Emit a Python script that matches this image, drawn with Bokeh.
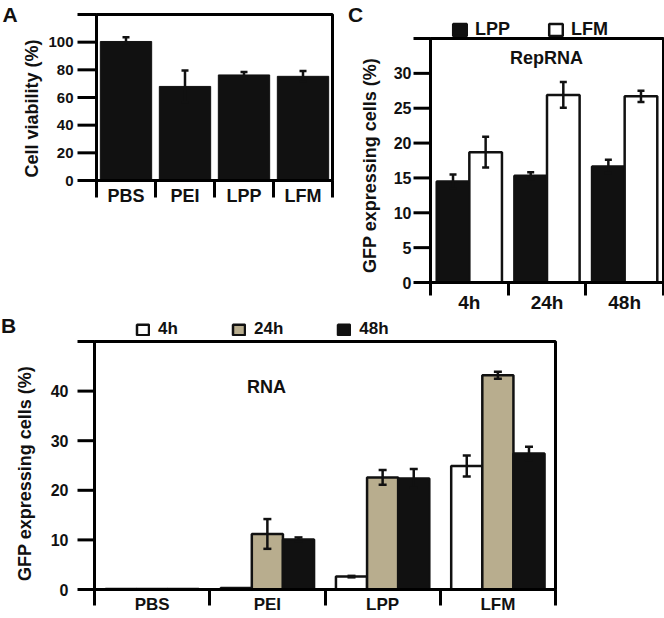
import math
from bokeh.plotting import figure
from bokeh.models import (Range1d, FixedTicker, LinearAxis, Whisker, TeeHead,
                          ColumnDataSource, Legend, LegendItem, Label, BoxAnnotation)
from bokeh.layouts import row, column
from bokeh.embed import file_html
from bokeh.resources import INLINE

FONT = "Liberation Sans"
BLACK = "#111111"
INK = "#000000"
TAN = "#b8ad8e"
WHITE = "#ffffff"

# ---------------- data ----------------
# Panel A: cell viability
a_categories = ["PBS", "PEI", "LPP", "LFM"]
a_viability = [100.5, 68.0, 76.3, 75.3]
a_error = [3.0, 11.5, 2.2, 3.8]
a_yticks = [0, 20, 40, 60, 80, 100, 120]

# Panel B: RNA, GFP expressing cells
b_categories = ["PBS", "PEI", "LPP", "LFM"]
b_series = ["4h", "24h", "48h"]
b_4h = [0.1, 0.3, 2.6, 24.9]
b_24h = [0.1, 11.2, 22.6, 43.2]
b_48h = [0.1, 10.1, 22.4, 27.4]
b_4h_err = [0.0, 0.0, 0.15, 2.1]
b_24h_err = [0.0, 3.0, 1.5, 0.7]
b_48h_err = [0.0, 0.4, 1.9, 1.4]
b_yticks = [0, 10, 20, 30, 40, 50]

# Panel C: RepRNA, GFP expressing cells
c_categories = ["4h", "24h", "48h"]
c_series = ["LPP", "LFM"]
c_lpp = [14.5, 15.3, 16.65]
c_lfm = [18.7, 26.9, 26.7]
c_lpp_err = [1.0, 0.5, 0.95]
c_lfm_err = [2.2, 1.85, 0.8]
c_yticks = [0, 5, 10, 15, 20, 25, 30, 35]


class Panel:
    """Figure whose frame fills the canvas; the plot box sits at a given page position."""

    def __init__(self, fig_box, plot_box, cats, ymax):
        fx, fy, fw, fh = fig_box
        pl, pr, pt, pb = plot_box
        self.fx, self.fy, self.fw, self.fh = fig_box
        self.pl, self.pb = pl, pb
        self.n = len(cats)
        self.ymax = ymax
        self.kx = (pr - pl) / self.n
        self.ky = (pb - pt) / ymax
        self.p = figure(width=fw, height=fh,
                        x_range=Range1d(self.dx(fx), self.dx(fx + fw)),
                        y_range=Range1d(self.dy(fy + fh), self.dy(fy)),
                        output_backend="svg", toolbar_location=None,
                        x_axis_type=None, y_axis_type=None, min_border=0)
        self.p.outline_line_color = None
        self.p.background_fill_color = WHITE
        self.p.border_fill_color = WHITE
        self.cats = cats

    def dx(self, page_x):
        return (page_x - self.pl) / self.kx

    def dy(self, page_y):
        return (self.pb - page_y) / self.ky

    def axes(self, yticks, tick_font, cat_font, ytick_out, ytick_gap, sep_out, cat_standoff):
        p = self.p
        n = self.n
        centers = [i + 0.5 for i in range(n)]
        xaxis = LinearAxis(
            fixed_location=0, bounds=(0, n),
            ticker=FixedTicker(ticks=centers, minor_ticks=list(range(n + 1))),
            major_label_overrides={c: lab for c, lab in zip(centers, self.cats)},
            major_tick_line_color=None, major_tick_out=0, major_tick_in=0,
            minor_tick_out=sep_out, minor_tick_in=0, minor_tick_line_width=3,
            minor_tick_line_color=INK,
            axis_line_width=3, axis_line_color=INK,
            major_label_text_font=FONT, major_label_text_font_style="bold",
            major_label_text_font_size=cat_font, major_label_text_color=BLACK,
            major_label_standoff=cat_standoff)
        p.add_layout(xaxis, "below")
        yaxis = LinearAxis(
            fixed_location=0, bounds=(0, self.ymax),
            ticker=FixedTicker(ticks=yticks),
            major_label_overrides={yticks[-1]: ""},
            major_tick_out=0, major_tick_in=0, major_tick_line_color=None,
            minor_tick_out=0, minor_tick_in=0, minor_tick_line_color=None,
            axis_line_width=3, axis_line_color=INK,
            major_label_text_font=FONT, major_label_text_font_style="bold",
            major_label_text_font_size=tick_font, major_label_text_color=BLACK,
            major_label_standoff=ytick_out + ytick_gap)
        for ax in (xaxis, yaxis):
            if "background_fill_color" in ax.properties():
                ax.background_fill_color = None
        p.add_layout(yaxis, "left")
        # outward tick marks of the value axis, one per tick value
        tick_len = ytick_out / self.kx
        p.segment(x0=[-tick_len] * len(yticks), x1=[0] * len(yticks),
                  y0=yticks, y1=yticks, line_color=INK, line_width=3,
                  level="overlay")
        p.add_layout(BoxAnnotation(left=0, right=n, bottom=0, top=self.ymax,
                                   fill_alpha=0, line_color=INK, line_alpha=1.0,
                                   line_width=3))

    def text(self, page_x, page_y, text, size, angle=0.0, align="center"):
        self.p.add_layout(Label(x=self.dx(page_x), y=self.dy(page_y), text=text,
                                angle=angle, text_align=align, text_baseline="middle",
                                text_font=FONT, text_font_style="bold",
                                text_font_size=size, text_color=BLACK))

    def legend(self, labels, renderers, page_left, page_top, est_h, gw, gh, standoff,
               spacing, size):
        loc = (page_left - self.fx, self.fy + self.fh - page_top - est_h)
        leg = Legend(items=[LegendItem(label=s, renderers=[r]) for s, r in zip(labels, renderers)],
                     orientation="horizontal", location=loc,
                     glyph_width=gw, glyph_height=gh, label_standoff=standoff,
                     spacing=spacing, padding=0, margin=0,
                     border_line_color=None, background_fill_alpha=0,
                     label_text_font=FONT, label_text_font_style="bold",
                     label_text_font_size=size, label_text_color=BLACK)
        self.p.add_layout(leg)


def add_err(p, xs, vals, errs, head):
    keep = [i for i, e in enumerate(errs) if e > 0]
    src = ColumnDataSource(dict(
        x=[xs[i] for i in keep],
        upper=[vals[i] + errs[i] for i in keep],
        lower=[vals[i] - errs[i] for i in keep]))
    w = Whisker(source=src, base="x", upper="upper", lower="lower",
                line_color=BLACK, line_width=2.5, level="overlay",
                upper_head=TeeHead(size=head, line_color=BLACK, line_width=2.5),
                lower_head=TeeHead(size=head, line_color=BLACK, line_width=2.5))
    p.add_layout(w)


# ---------------- Panel A ----------------
A = Panel((0, 0, 340, 313), (96, 332, 14, 180), a_categories, 120)
A.axes(a_yticks, "15px", "18px", 19, 4, 17, -12)
a_x = [i + 0.5 for i in range(len(a_categories))]
A.p.vbar(x=a_x, top=a_viability, width=0.87, bottom=0,
         fill_color=BLACK, line_color=BLACK, line_width=1)
add_err(A.p, a_x, a_viability, a_error, 7)
A.text(2, 14, "A", "21px", align="left")
A.text(31, 108, "Cell viability (%)", "18px", angle=math.pi / 2)

# ---------------- Panel C ----------------
C = Panel((340, 0, 324, 313), (430, 663, 38, 282), c_categories, 35)
C.axes(c_yticks, "16px", "19px", 17, 2, 13, -4)
c_off = 0.21
c_w = 0.42
c_x_lpp = [i + 0.5 - c_off for i in range(len(c_categories))]
c_x_lfm = [i + 0.5 + c_off for i in range(len(c_categories))]
r_lpp = C.p.vbar(x=c_x_lpp, top=c_lpp, width=c_w, bottom=0,
                 fill_color=BLACK, line_color=BLACK, line_width=2.5)
r_lfm = C.p.vbar(x=c_x_lfm, top=c_lfm, width=c_w, bottom=0,
                 fill_color=WHITE, line_color=BLACK, line_width=2.5)
add_err(C.p, c_x_lpp, c_lpp, c_lpp_err, 7)
add_err(C.p, c_x_lfm, c_lfm, c_lfm_err, 7)
C.legend(c_series, [r_lpp, r_lfm], 451, 16, 24, 17, 15, 7, 37, "18px")
C.text(355, 13.5, "C", "21px")
C.text(369, 165, "GFP expressing cells (%)", "18px", angle=math.pi / 2)
C.text(546, 57, "RepRNA", "18px")

# ---------------- Panel B ----------------
B = Panel((0, 313, 664, 305), (94, 555, 341, 589), b_categories, 50)
B.axes(b_yticks, "16px", "17px", 17, 9, 16, -11)
b_off = 0.27
b_w = 0.27
b_vals = [b_4h, b_24h, b_48h]
b_errs = [b_4h_err, b_24h_err, b_48h_err]
b_fills = [WHITE, TAN, BLACK]
b_renderers = []
for k, (vals, errs, fill) in enumerate(zip(b_vals, b_errs, b_fills)):
    xs = [i + 0.5 + (k - 1) * b_off for i in range(len(b_categories))]
    r = B.p.vbar(x=xs, top=vals, width=b_w, bottom=0,
                 fill_color=fill, line_color=BLACK, line_width=2.5)
    b_renderers.append(r)
    add_err(B.p, xs, vals, errs, 8)
B.legend(b_series, b_renderers, 135, 317, 22, 15, 13, 8, 53, "17px")
B.text(0.5, 324.5, "B", "21px", align="left")
B.text(24, 473, "GFP expressing cells (%)", "18px", angle=math.pi / 2)
B.text(266, 386, "RNA", "18px")

layout = column(row(A.p, C.p), B.p)
open("out.html", "w").write(file_html(layout, INLINE))
